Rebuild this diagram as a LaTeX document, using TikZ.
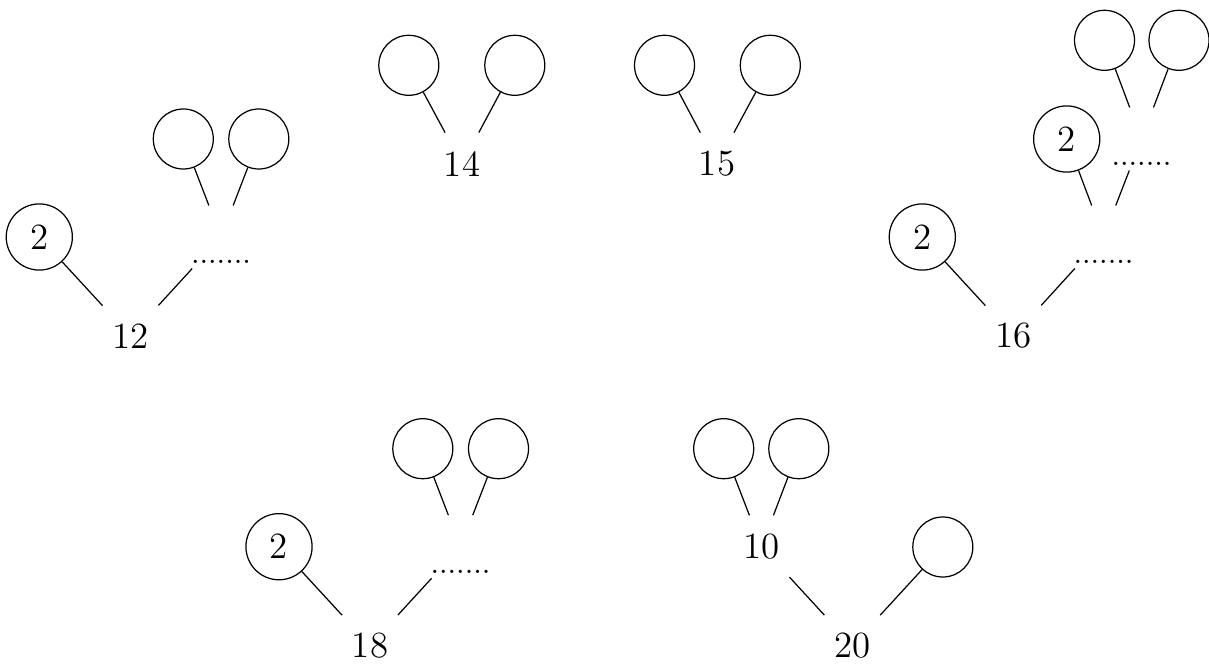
\documentclass[tikz,border=0pt]{standalone}
\begin{document}
\begin{tikzpicture}[x=0.325pt,y=-0.325pt,
  leaf/.style={circle,draw,line width=0.4pt,minimum size=19.5pt,inner sep=0pt},
  two/.style={circle,draw,line width=0.4pt,minimum size=21.5pt,inner sep=0pt,font=\large},
  num/.style={rectangle,minimum height=20pt,inner sep=0pt,inner xsep=3pt,font=\large},
  dotsnode/.style={rectangle,inner sep=0pt,inner xsep=3pt,text height=18.6pt,text depth=1.5pt,font=\normalsize},
  conn/.style={line width=0.4pt}]
\useasboundingbox (0,0) rectangle (1209,664);
% tree 12
\node[num] (r12) at (130.5,336) {12};
\node[two] (a12) at (39.3,237) {2};
\node[dotsnode] (d12) at (221,237) {.......};
\node[leaf] (l12a) at (183.3,139) {};
\node[leaf] (l12b) at (258.8,139) {};
\draw[conn] (r12) -- (a12);
\draw[conn] (r12) -- (d12);
\draw[conn] (d12) -- (l12a);
\draw[conn] (d12) -- (l12b);
% tree 14
\node[num] (r14) at (462,164) {14};
\node[leaf] (l14a) at (408.8,65.3) {};
\node[leaf] (l14b) at (514.8,65.3) {};
\draw[conn] (r14) -- (l14a);
\draw[conn] (r14) -- (l14b);
% tree 15
\node[num] (r15) at (717,164) {15};
\node[leaf] (l15a) at (664.5,65.3) {};
\node[leaf] (l15b) at (770.3,65.3) {};
\draw[conn] (r15) -- (l15a);
\draw[conn] (r15) -- (l15b);
% tree 16
\node[num] (r16) at (1013.3,336) {16};
\node[two] (a16) at (922.3,237) {2};
\node[dotsnode] (d16) at (1103.5,237) {.......};
\node[two] (a16b) at (1066.7,139) {2};
\node[dotsnode] (d16b) at (1141.5,139) {.......};
\node[leaf] (l16a) at (1104.5,40.3) {};
\node[leaf] (l16b) at (1179,40.3) {};
\draw[conn] (r16) -- (a16);
\draw[conn] (r16) -- (d16);
\draw[conn] (d16) -- (a16b);
\draw[conn] (d16) -- (d16b);
\draw[conn] (d16b) -- (l16a);
\draw[conn] (d16b) -- (l16b);
% tree 18
\node[num] (r18) at (370,645.5) {18};
\node[two] (a18) at (279,546.7) {2};
\node[dotsnode] (d18) at (460.5,546.7) {.......};
\node[leaf] (l18a) at (422.8,448.7) {};
\node[leaf] (l18b) at (498.5,448.7) {};
\draw[conn] (r18) -- (a18);
\draw[conn] (r18) -- (d18);
\draw[conn] (d18) -- (l18a);
\draw[conn] (d18) -- (l18b);
% tree 20
\node[num] (r20) at (852.3,645.5) {20};
\node[num] (n10) at (761.5,546.7) {10};
\node[leaf] (l20c) at (942.8,547) {};
\node[leaf] (l10a) at (723.7,448.7) {};
\node[leaf] (l10b) at (798.8,448.7) {};
\draw[conn] (r20) -- (n10);
\draw[conn] (r20) -- (l20c);
\draw[conn] (n10) -- (l10a);
\draw[conn] (n10) -- (l10b);
\end{tikzpicture}
\end{document}
